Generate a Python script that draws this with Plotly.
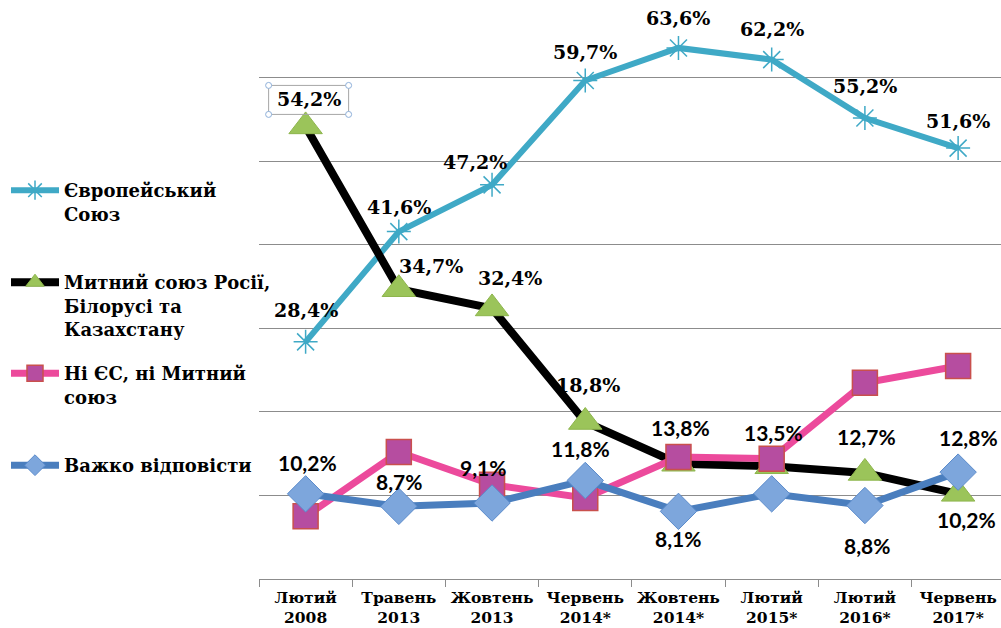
import plotly.graph_objects as go

categories = ["Лютий<br>2008", "Травень<br>2013", "Жовтень<br>2013", "Червень<br>2014*",
              "Жовтень<br>2014*", "Лютий<br>2015*", "Лютий<br>2016*", "Червень<br>2017*"]

eu = [28.4, 41.6, 47.2, 59.7, 63.6, 62.2, 55.2, 51.6]
customs_union = [54.2, 34.7, 32.4, 18.8, 13.8, 13.5, 12.7, 10.2]
neither = [7.5, 15.2, 11.3, 9.7, 14.6, 14.4, 23.5, 25.5]
hard_to_say = [10.2, 8.7, 9.1, 11.8, 8.1, 10.2, 8.8, 12.8]

# label placement (pixel offsets from the point), None = no label
eu_lbl = [(0, 32), (0, 25), (-17, 23), (0, 28), (0, 30), (0, 31), (0, 32), (0, 27)]
cu_lbl = [(3, 27), (32, 23), (18, 30), (3, 37), (2, 36), (2, 34), (2, 36), (8, -26)]
hs_lbl = [(2, 31), (0, 25), (-9, 36), (-5, 32), (0, -27), None, (2, -40), (10, 35)]

SERIF = "DejaVu Serif"
SANS = "Lato"

fig = go.Figure()

fig.add_trace(go.Scatter(
    x=categories, y=eu, name="<b>Європейський<br>Союз</b>", mode="lines+markers",
    line=dict(color="#3FA9C6", width=6),
    marker=dict(symbol="asterisk-open", size=20, line=dict(color="#5BB8D6", width=1.5)),
    legend="legend"))
fig.add_trace(go.Scatter(
    x=categories, y=customs_union, name="<b>Митний союз Росії,<br>Білорусі та<br>Казахстану</b>",
    mode="lines+markers", line=dict(color="black", width=8),
    marker=dict(symbol="triangle-up", size=29, color="#9BC45A", line=dict(color="#8DB54C", width=1)),
    legend="legend2"))
fig.add_trace(go.Scatter(
    x=categories, y=neither, name="<b>Ні ЄС, ні Митний<br>союз</b>", mode="lines+markers",
    line=dict(color="#EC4A9C", width=7),
    marker=dict(symbol="square", size=25, color="#B64DA0", line=dict(color="#C9504D", width=1.5)),
    legend="legend3"))
fig.add_trace(go.Scatter(
    x=categories, y=hard_to_say, name="<b>Важко відповісти</b>", mode="lines+markers",
    line=dict(color="#4A7EBE", width=7),
    marker=dict(symbol="diamond", size=28, color="#7DA6DC", line=dict(color="#5B8BCB", width=1)),
    legend="legend4"))


def fmt(v):
    return f"{v:.1f}".replace(".", ",") + "%"


def add_labels(vals, offsets, fonts):
    for i, (v, off) in enumerate(zip(vals, offsets)):
        if off is None:
            continue
        fig.add_annotation(x=categories[i], y=v, text="<b>" + fmt(v) + "</b>", showarrow=False,
                           xshift=off[0], yshift=off[1],
                           font=dict(family=fonts[i], size=19 if fonts[i] == SERIF else 21, color="black"))


add_labels(eu, eu_lbl, [SERIF] * 8)
add_labels(customs_union, cu_lbl, [SERIF] * 4 + [SANS] * 4)
add_labels(hard_to_say, hs_lbl, [SANS] * 8)

# selection frame around the first label
fig.add_shape(type="rect", xref="x", yref="y", xsizemode="pixel", ysizemode="pixel",
              xanchor=categories[0], yanchor=customs_union[0],
              x0=-37, x1=43, y0=12, y1=41, line=dict(color="#A6A6A6", width=1))
for cx, cy in [(-37, 12), (43, 12), (-37, 41), (43, 41)]:
    fig.add_shape(type="circle", xref="x", yref="y", xsizemode="pixel", ysizemode="pixel",
                  xanchor=categories[0], yanchor=customs_union[0],
                  x0=cx - 3, x1=cx + 3, y0=cy - 3, y1=cy + 3,
                  line=dict(color="#8EB0DA", width=1), fillcolor="white")

leg = dict(xref="container", yref="container", x=0.006, xanchor="left", yanchor="top", valign="top",
           bgcolor="rgba(0,0,0,0)", font=dict(family=SERIF, size=18, color="black"),
           itemwidth=48, borderwidth=0)

fig.update_layout(
    width=1001, height=628,
    margin=dict(l=259, r=0, t=7, b=49, autoexpand=False),
    plot_bgcolor="white", paper_bgcolor="white",
    showlegend=True,
    legend=dict(leg, y=1 - 172 / 628),
    legend2=dict(leg, y=1 - 264 / 628),
    legend3=dict(leg, y=1 - 355 / 628),
    legend4=dict(leg, y=1 - 447 / 628),
    xaxis=dict(type="category", range=[-0.5, 7.46], showgrid=False, showline=True,
               linecolor="#8C8C8C", linewidth=1, ticks="outside", tickson="boundaries",
               ticklen=7, tickcolor="#8C8C8C", automargin=False, ticklabelstandoff=4,
               tickangle=0,
               tickfont=dict(family=SERIF, size=15.5, color="black"), fixedrange=True),
    yaxis=dict(range=[0, 68.5], dtick=10, showgrid=True, gridcolor="#8C8C8C", gridwidth=1,
               showticklabels=False, zeroline=False, showline=False, ticks="", automargin=False),
)
fig.update_xaxes(tickprefix="<b>", ticksuffix="</b>")

fig.write_html("out.html", config={"displayModeBar": False},
               post_script="document.body.style.margin='0';")
